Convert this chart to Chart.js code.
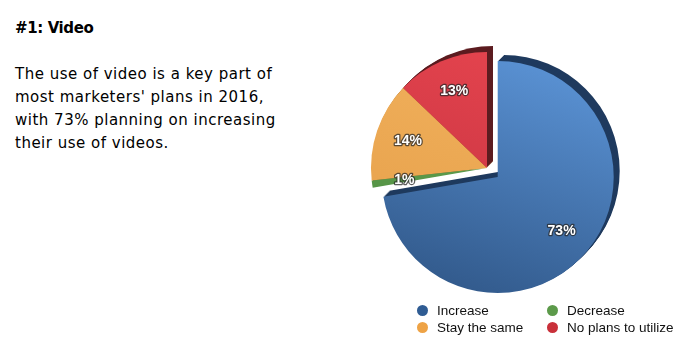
<!DOCTYPE html>
<html><head><meta charset="utf-8">
<script src="https://cdn.jsdelivr.net/npm/chart.js@4/dist/chart.umd.min.js"></script>
<style>
html,body{margin:0;padding:0;background:#fff;width:695px;height:351px;overflow:hidden;}
#title{position:absolute;left:15px;top:19px;font:bold 15px "DejaVu Sans";letter-spacing:-0.4px;line-height:18px;color:#000;white-space:nowrap;}
#body{position:absolute;left:15px;top:63px;width:330px;font:15px "DejaVu Sans";letter-spacing:0.5px;line-height:23px;color:#000;}
#wrap{position:absolute;left:341px;top:22px;width:292px;height:292px;}
#legend{position:absolute;left:417px;top:302px;display:grid;grid-template-columns:130px 140px;font:13.5px "Liberation Sans";color:#111;}
.item{display:flex;align-items:center;height:17px;white-space:nowrap;}
.dot{width:11px;height:11px;border-radius:50%;margin-right:9px;flex:none;}
</style></head><body>
<div id="title">#1: Video</div>
<div id="body">The use of video is a key part of<br>most marketers' plans in 2016,<br>with 73% planning on increasing<br>their use of videos.</div>
<div id="wrap"><canvas id="c"></canvas></div>
<div id="legend"></div>
<script>
// ---- data ----
const categories = ['Increase', 'Decrease', 'Stay the same', 'No plans to utilize'];
const shares = [73, 1, 14, 13];

// ---- styles ----
const faceLight = ['#5a92d4', '#6aab58', '#f2b25e', '#e5444e'];
const faceDark  = ['#325a8c', '#4f8c40', '#e6a04a', '#c43240'];
const sideColor = ['#1f3a5e', '#2e5a25', '#9c6a28', '#5c1c20'];
const legendColor = ['#2f5c93', '#5c9a4a', '#eea346', '#c9303a'];
const EXPLODE = 14, DEPTH_X = 6, DEPTH_Y = -6;

function wedge(ctx, g) {
  ctx.beginPath();
  ctx.moveTo(g.x, g.y);
  ctx.arc(g.x, g.y, g.r, g.s, g.e);
  ctx.closePath();
}

const pie3d = {
  id: 'pie3d',
  beforeDatasetsDraw(chart) {
    const ctx = chart.ctx;
    const meta = chart.getDatasetMeta(0);
    const geo = meta.data.map((arc, i) => {
      const p = arc.getProps(['x', 'y', 'startAngle', 'endAngle', 'outerRadius'], true);
      const mid = (p.startAngle + p.endAngle) / 2;
      const d = i === 0 ? EXPLODE : 0;
      return {x: p.x + Math.cos(mid) * d, y: p.y + Math.sin(mid) * d, r: p.outerRadius, s: p.startAngle, e: p.endAngle, mid};
    });
    // extrusion sides
    geo.forEach((g, i) => {
      const steps = 6;
      for (let k = steps; k >= 1; k--) {
        ctx.save();
        ctx.translate(DEPTH_X * k / steps, DEPTH_Y * k / steps);
        wedge(ctx, g);
        ctx.fillStyle = sideColor[i];
        ctx.fill();
        ctx.restore();
      }
    });
    // faces
    geo.forEach((g, i) => {
      const grad = ctx.createLinearGradient(g.x + g.r * 0.4, g.y - g.r, g.x - g.r * 0.3, g.y + g.r);
      grad.addColorStop(0, faceLight[i]);
      grad.addColorStop(1, faceDark[i]);
      wedge(ctx, g);
      ctx.fillStyle = grad;
      ctx.fill();
    });
    // labels
    ctx.save();
    ctx.font = 'bold 14px "Liberation Sans"';
    ctx.textAlign = 'center';
    ctx.textBaseline = 'middle';
    ctx.lineJoin = 'round';
    geo.forEach((g, i) => {
      const rr = g.r * 0.72;
      const lx = g.x + Math.cos(g.mid) * rr, ly = g.y + Math.sin(g.mid) * rr;
      const t = chart.data.datasets[0].data[i] + '%';
      ctx.strokeStyle = 'rgba(40,40,40,0.75)';
      ctx.lineWidth = 2.5;
      ctx.strokeText(t, lx, ly);
      ctx.fillStyle = '#fff';
      ctx.fillText(t, lx, ly);
    });
    ctx.restore();
    return false;
  }
};

new Chart(document.getElementById('c'), {
  type: 'pie',
  data: {labels: categories, datasets: [{data: shares, backgroundColor: legendColor, borderWidth: 0}]},
  options: {
    responsive: true, maintainAspectRatio: false, animation: false,
    layout: {padding: 30},
    plugins: {legend: {display: false}, tooltip: {enabled: false}}
  },
  plugins: [pie3d]
});

const lg = document.getElementById('legend');
categories.forEach((c, i) => {
  const d = document.createElement('div');
  d.className = 'item';
  d.innerHTML = '<span class="dot" style="background:' + legendColor[i] + '"></span><span>' + c + '</span>';
  lg.appendChild(d);
});
</script>
</body></html>
